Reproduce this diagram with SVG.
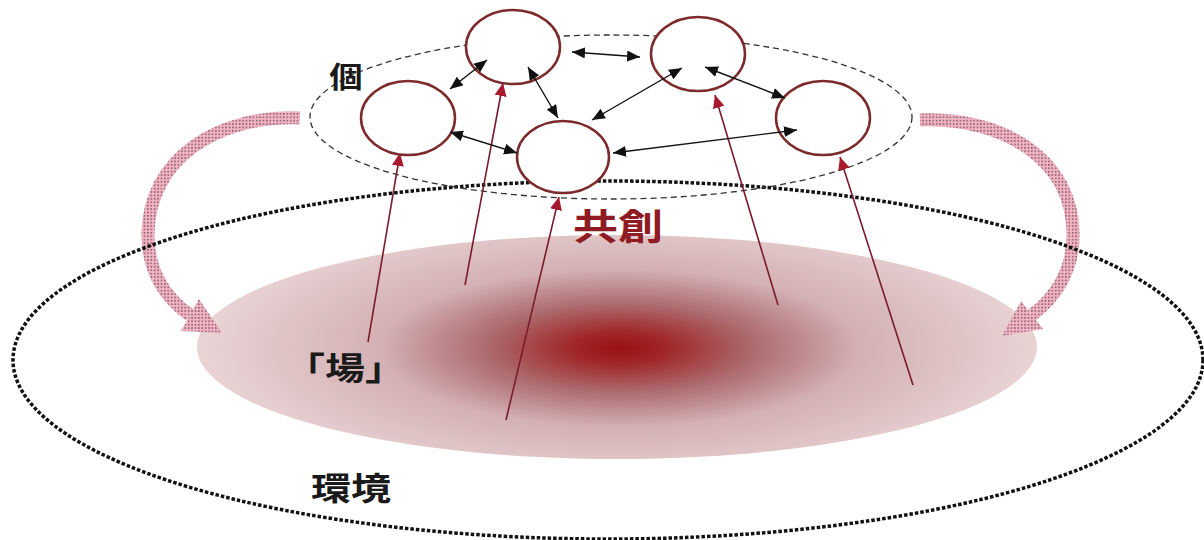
<svg xmlns="http://www.w3.org/2000/svg" width="1204" height="540" viewBox="0 0 1204 540">
<style>
.lbl{font-family:"Noto Sans CJK JP","Noto Sans CJK SC",sans-serif;font-weight:bold;text-anchor:middle}
.node{fill:#ffffff;stroke:#7c2a2c;stroke-width:2.5}
.blk{stroke:#111;stroke-width:1.4;fill:none;marker-start:url(#bh);marker-end:url(#bh)}
.red{stroke:#7a1c2c;stroke-width:1.6;fill:none;marker-end:url(#rh)}
.band{fill:none;stroke:url(#dots);stroke-width:13}
</style>
<defs>
<marker id="bh" viewBox="0 0 13 11" markerWidth="13" markerHeight="11" refX="13" refY="5.5" orient="auto-start-reverse" markerUnits="userSpaceOnUse">
<path d="M0,0 L13,5.5 L0,11 z" fill="#111"/>
</marker>
<marker id="rh" viewBox="0 0 13 12" markerWidth="13" markerHeight="12" refX="13" refY="6" orient="auto" markerUnits="userSpaceOnUse">
<path d="M0,0 L13,6 L0,12 z" fill="#a8192e"/>
</marker>
<pattern id="dots" width="3.4" height="3.4" patternUnits="userSpaceOnUse">
<rect width="3.4" height="3.4" fill="#f1b3c4"/>
<rect x="1" y="1" width="1.3" height="1.3" fill="#5a3a44"/>
</pattern>
<radialGradient id="field" gradientUnits="userSpaceOnUse" cx="620" cy="348" r="410" gradientTransform="translate(620 348) scale(1 0.33) translate(-620 -348)">
<stop offset="0" stop-color="#9a1012"/>
<stop offset="0.12" stop-color="#a0282a"/>
<stop offset="0.33" stop-color="#ad6c70"/>
<stop offset="0.58" stop-color="#d3b0b3"/>
<stop offset="1" stop-color="#e8d2d3"/>
</radialGradient>
</defs>

<g id="field-ba">
<ellipse cx="617" cy="347" rx="420" ry="112" fill="url(#field)"/>
</g>

<g id="pink-arrows">
<path class="band" d="M300,118 C215,115 150,160 148,232 C147,270 165,298 190,315"/>
<polygon points="181,331 199,299 222,333" fill="url(#dots)"/>
<path class="band" d="M920,120 C1005,117 1072,160 1073,233 C1074,270 1055,298 1032,315"/>
<polygon points="1043,329 1021,301 1002,336" fill="url(#dots)"/>
</g>

<g id="environment">
<ellipse cx="608" cy="360" rx="595" ry="179" fill="none" stroke="#111" stroke-width="3.5" stroke-dasharray="3.5 2"/>
</g>

<g id="individual-group">
<ellipse cx="611" cy="117" rx="301" ry="82" fill="none" stroke="#333" stroke-width="1.3" stroke-dasharray="6 4"/>
</g>

<g id="connectors">
<line class="red" x1="368" y1="342" x2="400" y2="153"/>
<line class="red" x1="465" y1="285" x2="503" y2="83"/>
<line class="red" x1="506" y1="420" x2="559" y2="197"/>
<line class="red" x1="778" y1="305" x2="715" y2="95"/>
<line class="red" x1="913" y1="385" x2="840" y2="157"/>
</g>

<g id="node1"><ellipse class="node" cx="513" cy="47" rx="47" ry="37"/></g>
<g id="node2"><ellipse class="node" cx="698" cy="54" rx="47" ry="37"/></g>
<g id="node3"><ellipse class="node" cx="408" cy="118" rx="47" ry="37"/></g>
<g id="node4"><ellipse class="node" cx="563" cy="157" rx="46" ry="36"/></g>
<g id="node5"><ellipse class="node" cx="823" cy="118" rx="47" ry="37"/></g>

<g id="links">
<line class="blk" x1="450" y1="89" x2="487" y2="60"/>
<line class="blk" x1="528" y1="67" x2="558" y2="118"/>
<line class="blk" x1="572" y1="52" x2="640" y2="57"/>
<line class="blk" x1="682" y1="68" x2="592" y2="120"/>
<line class="blk" x1="705" y1="67" x2="785" y2="98"/>
<line class="blk" x1="450" y1="132" x2="517" y2="153"/>
<line class="blk" x1="797" y1="130" x2="613" y2="153"/>
</g>

<g id="labels">
<text class="lbl" font-size="29" fill="#1a1a1a" transform="translate(346 88) scale(1.15 1)">個</text>
<text class="lbl" font-size="36" fill="#8e1c22" transform="translate(618 240) scale(1.25 1)">共創</text>
<text class="lbl" font-size="32" fill="#1a1a1a" transform="translate(345 380) scale(1.25 1)">「場」</text>
<text class="lbl" font-size="32" fill="#1a1a1a" transform="translate(351 500) scale(1.25 1)">環境</text>
</g>
</svg>
